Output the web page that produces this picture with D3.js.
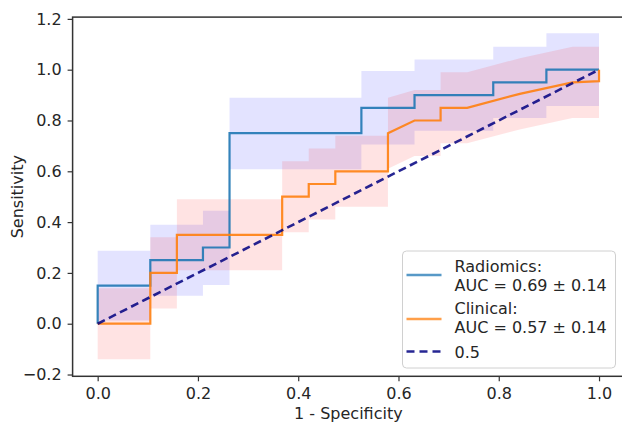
<!DOCTYPE html>
<html>
<head>
<meta charset="utf-8">
<script src="https://cdn.jsdelivr.net/npm/d3@7"></script>
<style>
body { margin: 0; background: #fff; }
text { font-family: "DejaVu Sans", sans-serif; fill: #262626; }
</style>
</head>
<body>
<div class="chart"></div>
<script>
// ---- data ----
// Radiomics mean ROC (step curve) and its +/- std band
let radFpr = [0, 0, 0.105, 0.105, 0.21, 0.21, 0.263, 0.263, 0.526, 0.526, 0.632, 0.632, 0.789, 0.789, 0.895, 0.895, 1.0];
let radTpr = [0, 0.15, 0.15, 0.25, 0.25, 0.30, 0.30, 0.75, 0.75, 0.85, 0.85, 0.90, 0.90, 0.95, 0.95, 1.0, 1.0];
let radHi  = [0.287, 0.287, 0.287, 0.39, 0.39, 0.445, 0.445, 0.89, 0.89, 0.995, 0.995, 1.04, 1.04, 1.09, 1.09, 1.143, 1.143];
let radLo  = [0.013, 0.013, 0.013, 0.11, 0.11, 0.152, 0.152, 0.608, 0.608, 0.705, 0.705, 0.76, 0.76, 0.81, 0.81, 0.857, 0.857];

// Clinical mean ROC and band
let cliFpr = [0, 0.105, 0.105, 0.158, 0.158, 0.368, 0.368, 0.421, 0.421, 0.474, 0.474, 0.579, 0.579, 0.632, 0.684, 0.684, 0.737, 0.842, 0.947, 1.0, 1.0];
let cliTpr = [0, 0, 0.2, 0.2, 0.35, 0.35, 0.5, 0.5, 0.55, 0.55, 0.6, 0.6, 0.75, 0.8, 0.8, 0.85, 0.85, 0.905, 0.95, 0.955, 1.0];
let cliHi  = [0.14, 0.14, 0.34, 0.34, 0.49, 0.49, 0.64, 0.64, 0.69, 0.69, 0.74, 0.74, 0.89, 0.92, 0.92, 0.99, 0.99, 1.045, 1.09, 1.09, 1.09];
let cliLo  = [-0.14, -0.14, 0.06, 0.06, 0.21, 0.21, 0.36, 0.36, 0.41, 0.41, 0.46, 0.46, 0.61, 0.66, 0.66, 0.71, 0.71, 0.765, 0.81, 0.81, 0.81];

let chanceLine = [0, 1];
let xTicks = [0, 0.2, 0.4, 0.6, 0.8, 1.0];
let yTicks = [-0.2, 0, 0.2, 0.4, 0.6, 0.8, 1.0, 1.2];
let legendLabels = [["Radiomics:", "AUC = 0.69 \u00b1 0.14"], ["Clinical:", "AUC = 0.57 \u00b1 0.14"], ["0.5"]];

let outWidth = 622, outHeight = 427;
let plot = {left: 72.6, right: 624.1, top: 17.1, bottom: 376.3};

const svg = d3.select(".chart").append("svg")
    .attr("width", outWidth)
    .attr("height", outHeight);

svg.append("rect").attr("width", outWidth).attr("height", outHeight).attr("fill", "#fff");

const x = d3.scaleLinear().domain([-0.05, 1.05]).range([plot.left, plot.right]);
const y = d3.scaleLinear().domain([-0.207, 1.207]).range([plot.bottom, plot.top]);

function zipRows(fpr, tpr, lo, hi) {
    return fpr.map((f, i) => ({fpr: f, tpr: tpr[i], lo: lo[i], hi: hi[i]}));
}
const rad = zipRows(radFpr, radTpr, radLo, radHi);
const cli = zipRows(cliFpr, cliTpr, cliLo, cliHi);

const band = d3.area().x(d => x(d.fpr)).y0(d => y(d.lo)).y1(d => y(d.hi));
const line = d3.line().x(d => x(d.fpr)).y(d => y(d.tpr));

const g = svg.append("g");

// bands
g.append("path").datum(rad).attr("d", band)
    .attr("fill", "blue").attr("fill-opacity", 0.11);
g.append("path").datum(cli).attr("d", band)
    .attr("fill", "red").attr("fill-opacity", 0.11);

// mean curves
g.append("path").datum(rad).attr("d", line)
    .attr("fill", "none").attr("stroke", "#1f77b4").attr("stroke-width", 2.2).attr("stroke-opacity", 0.9);
g.append("path").datum(cli).attr("d", line)
    .attr("fill", "none").attr("stroke", "#ff7f0e").attr("stroke-width", 2.2).attr("stroke-opacity", 0.9);

// chance diagonal
g.append("line")
    .attr("x1", x(chanceLine[0])).attr("y1", y(chanceLine[0]))
    .attr("x2", x(chanceLine[1])).attr("y2", y(chanceLine[1]))
    .attr("stroke", "navy").attr("stroke-opacity", 0.85)
    .attr("stroke-width", 2.6).attr("stroke-dasharray", "8,4.5");

// axes
const xAxis = d3.axisBottom(x).tickValues(xTicks).tickFormat(d3.format(".1f"))
    .tickSize(5).tickPadding(6.5).tickSizeOuter(0);
const yAxis = d3.axisLeft(y).tickValues(yTicks).tickFormat(d3.format(".1f"))
    .tickSize(5).tickPadding(6).tickSizeOuter(0);

svg.append("g").attr("class", "axis x-axis")
    .attr("transform", `translate(0, ${plot.bottom})`)
    .call(xAxis);
svg.append("g").attr("class", "axis y-axis")
    .attr("transform", `translate(${plot.left}, 0)`)
    .call(yAxis);

svg.selectAll(".axis .domain").remove();
svg.selectAll(".axis line").attr("stroke", "#333").attr("stroke-width", 1.2);
svg.selectAll(".axis text").attr("font-size", 16).attr("font-family", "DejaVu Sans").attr("fill", "#262626");

// spines
svg.append("rect")
    .attr("x", plot.left).attr("y", plot.top)
    .attr("width", plot.right - plot.left).attr("height", plot.bottom - plot.top)
    .attr("fill", "none").attr("stroke", "#333").attr("stroke-width", 1.5);

// axis titles
svg.append("text")
    .attr("x", x(0.5)).attr("y", 419)
    .attr("text-anchor", "middle").attr("font-size", 16)
    .text("1 - Specificity");
svg.append("text")
    .attr("transform", `translate(23, ${(plot.top + plot.bottom) / 2}) rotate(-90)`)
    .attr("text-anchor", "middle").attr("font-size", 16)
    .text("Sensitivity");

// legend
const lg = svg.append("g");
lg.append("rect")
    .attr("x", 402.5).attr("y", 251).attr("width", 213).attr("height", 117)
    .attr("rx", 4).attr("fill", "#fff").attr("fill-opacity", 0.8)
    .attr("stroke", "#d0d0d0").attr("stroke-width", 1);

const legendKeys = [
    {color: "#1f77b4", dash: null, ly: 275, textY: [271.5, 290.5]},
    {color: "#ff7f0e", dash: null, ly: 319, textY: [313.5, 332.5]},
    {color: "navy", dash: "8,5", ly: 351.5, textY: [357.5]}
];
legendKeys.forEach((k, i) => {
    lg.append("line")
        .attr("x1", 406.5).attr("x2", 441.5).attr("y1", k.ly).attr("y2", k.ly)
        .attr("stroke", k.color).attr("stroke-width", 2.6)
        .attr("stroke-opacity", k.dash ? 0.85 : 0.75)
        .attr("stroke-dasharray", k.dash);
    legendLabels[i].forEach((t, j) => {
        lg.append("text")
            .attr("x", 454.5).attr("y", k.textY[j])
            .attr("font-size", 16)
            .text(t);
    });
});
</script>
</body>
</html>
